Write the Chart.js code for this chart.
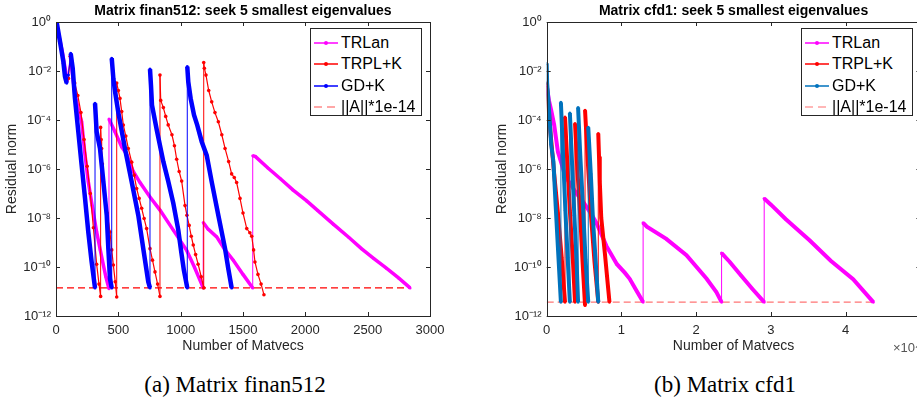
<!DOCTYPE html>
<html>
<head>
<meta charset="utf-8">
<script src="https://cdn.jsdelivr.net/npm/chart.js@4.4.1/dist/chart.umd.min.js"></script>
<style>
html, body { margin: 0; padding: 0; background: #fff; width: 917px; height: 400px; overflow: hidden; position: relative;
  font-family: "Liberation Sans", Arial, sans-serif; }
canvas { position: absolute; top: 0; }
#chartA { left: 0; }
#chartB { left: 460px; }
.cap { position: absolute; top: 373px; font: 23px/23px "Liberation Serif", "Times New Roman", serif; color: #000;
  white-space: nowrap; transform: translateX(-50%); }
.leg { position: absolute; top: 28px; width: 112px; height: 88px; border: 1px solid #262626; background: #fff; box-sizing: border-box; }
.row { position: absolute; left: 3px; height: 20px; display: flex; align-items: center; font-size: 16px; color: #000; white-space: nowrap; }
.row svg { margin-right: 3px; }
.expo { position: absolute; left: 893px; top: 340px; font-size: 13px; color: #555; white-space: nowrap; }
</style>
</head>
<body>
<canvas id="chartA" width="460" height="360"></canvas>
<canvas id="chartB" width="500" height="360"></canvas>
<div class="leg" id="legA" style="left:310px"></div>
<div class="leg" id="legB" style="left:801px"></div>
<div class="expo">×10⁴</div>
<div class="cap" style="left:235px">(a) Matrix finan512</div>
<div class="cap" style="left:725px">(b) Matrix cfd1</div>
<script>
// tick values
const logTicks = [1e-12, 1e-10, 1e-8, 1e-6, 1e-4, 1e-2, 1];
const finanTicks = [0, 500, 1000, 1500, 2000, 2500, 3000];
const cfdTicks = [0, 10000, 20000, 30000, 40000, 50000];
const legendNames = ['TRLan', 'TRPL+K', 'GD+K', '||A||*1e-14'];

// finan512: [matvecs, residual norm]
const finanTRLan = [
  [0, 1.0], [50, 6.3e-2], [90, 4.0e-3], [115, 4.0e-2], [150, 1.3e-3], [180, 2.5e-4], [206, 8.5e-5], [230, 5.0e-6],
  [259, 3.0e-7], [290, 3.2e-8], [326, 2.7e-9], [355, 5.0e-10], [380, 1.2e-10], [400, 4.0e-11], [425, 1.3e-11],
  [425, 1.1e-4], [473, 3.3e-5], [527, 7.9e-6], [567, 4.0e-6], [620, 7.9e-7], [674, 2.8e-7], [754, 7.2e-8],
  [834, 2.1e-8], [941, 3.2e-9], [1048, 4.8e-10], [1110, 1.0e-10], [1181, 1.4e-11],
  [1181, 6.5e-9], [1220, 3.5e-9], [1289, 1.7e-9], [1356, 5.0e-10], [1422, 1.9e-10], [1500, 5.0e-11], [1578, 1.4e-11],
  [1578, 3.5e-6], [1600, 3.2e-6], [1700, 1.1e-6], [1800, 4.0e-7], [1900, 1.4e-7], [2011, 5.0e-8], [2100, 2.0e-8],
  [2224, 5.6e-9], [2350, 1.6e-9], [2450, 5.6e-10], [2550, 2.2e-10], [2650, 8.9e-11], [2750, 3.5e-11], [2840, 1.4e-11]
];
const finanTRPL = [
  [0, 1.0], [30, 1.6e-1], [60, 2.0e-2], [85, 4.0e-3], [100, 5.0e-3], [115, 4.0e-2], [130, 1.6e-2], [150, 3.2e-3],
  [175, 1.0e-3], [200, 2.0e-4], [225, 1.6e-5], [250, 1.3e-6], [275, 1.0e-7], [300, 4.0e-9], [326, 1.3e-10],
  [345, 2.0e-11], [358, 6.3e-12],
  [358, 5.0e-5], [362, 1.6e-5], [366, 6.9e-6], [372, 1.6e-6], [380, 3.0e-7], [395, 6.3e-8], [410, 1.6e-8],
  [433, 2.7e-9], [447, 5.0e-10], [460, 1.2e-10], [475, 2.5e-11], [487, 6.0e-12],
  [487, 3.2e-3], [500, 1.6e-3], [513, 7.6e-4], [527, 2.2e-4], [540, 6.2e-5], [560, 2.2e-5], [580, 6.9e-6],
  [607, 1.9e-6], [627, 5.6e-7], [647, 1.6e-7], [667, 6.3e-8], [687, 2.5e-8], [707, 9.5e-9], [727, 3.7e-9],
  [754, 5.6e-10], [774, 1.9e-10], [794, 6.3e-11], [815, 2.0e-11], [834, 6.3e-12],
  [834, 6.8e-3], [840, 6.3e-4], [861, 3.2e-4], [880, 1.4e-4], [900, 6.3e-5], [930, 2.5e-5], [950, 8.9e-6],
  [968, 2.5e-6], [988, 7.9e-7], [1008, 3.2e-7], [1035, 3.2e-8], [1050, 1.3e-8], [1068, 5.0e-9], [1085, 1.8e-9],
  [1101, 7.9e-10], [1120, 3.2e-10], [1140, 1.3e-10], [1165, 4.0e-11], [1185, 1.4e-11],
  [1185, 2.2e-2], [1190, 1.3e-2], [1203, 6.8e-3], [1225, 1.6e-3], [1249, 5.5e-4], [1275, 2.0e-4], [1302, 8.5e-5],
  [1330, 2.5e-5], [1356, 6.9e-6], [1385, 2.0e-6], [1409, 6.3e-7], [1430, 4.5e-7], [1449, 2.8e-7], [1476, 6.3e-8],
  [1500, 1.6e-8], [1530, 3.7e-9], [1555, 2.5e-9], [1570, 1.8e-9], [1585, 5.0e-10], [1596, 1.6e-10], [1620, 5.0e-11],
  [1645, 2.0e-11], [1668, 7.4e-12]
];
const finanGDK = [
  [5, 1.0], [32, 1.6e-1], [59, 2.4e-2], [72, 5.9e-3], [86, 3.2e-3], [99, 6.8e-3], [118, 5.2e-2], [134, 1.3e-2],
  [152, 7.6e-4], [179, 3.3e-5], [206, 1.4e-6], [233, 6.3e-8], [259, 2.7e-9], [286, 1.6e-10], [313, 1.4e-11],
  [313, 4.8e-4], [326, 3.3e-5], [353, 6.9e-6], [380, 3.0e-7], [407, 1.3e-8], [420, 5.6e-10], [433, 3.3e-11], [447, 1.4e-11],
  [447, 3.3e-2], [460, 5.0e-3], [475, 1.3e-3], [500, 2.0e-4], [553, 6.9e-6], [607, 3.0e-7], [660, 1.3e-8],
  [700, 5.6e-10], [740, 2.5e-11], [754, 1.4e-11],
  [754, 1.2e-2], [762, 2.5e-3], [770, 4.0e-4], [808, 4.0e-5], [861, 2.0e-6], [900, 3.2e-7], [941, 4.0e-8],
  [981, 3.2e-9], [1005, 4.0e-10], [1025, 7.9e-11], [1053, 1.4e-11],
  [1053, 1.5e-2], [1061, 3.6e-3], [1080, 7.6e-4], [1107, 1.6e-4], [1133, 6.2e-5], [1169, 1.3e-5], [1209, 3.6e-6],
  [1249, 3.0e-7], [1302, 1.3e-8], [1356, 5.6e-10], [1382, 8.5e-11], [1409, 1.4e-11]
];
const finanLimit = [[0, 1.4e-11], [2840, 1.4e-11]];

// cfd1: [matvecs, residual norm]
const cfdTRLan = [
  [0, 2.5e-3], [300, 6.3e-4], [600, 2.5e-4], [1000, 6.3e-5], [1500, 5.0e-6], [2500, 5.0e-7], [4000, 1.0e-7],
  [5000, 4.0e-8], [6200, 1.1e-8], [6700, 5.9e-9], [8000, 7.1e-10], [9400, 1.3e-10], [10500, 5.6e-11],
  [11100, 3.3e-11], [12000, 1.1e-11], [12900, 3.7e-12],
  [12900, 6.3e-9], [13400, 4.4e-9], [16000, 1.4e-9], [18700, 3.0e-10], [21400, 3.3e-11], [22700, 9.5e-12], [23400, 3.7e-12],
  [23400, 3.7e-10], [24500, 1.6e-10], [26000, 4.5e-11], [27500, 1.3e-11], [29100, 3.7e-12],
  [29100, 6.2e-8], [30000, 3.5e-8], [32000, 8.9e-9], [35200, 1.2e-9], [38000, 1.8e-10], [41000, 3.2e-11], [43700, 3.7e-12]
];
const cfdTRPL = [
  [0, 3.2e-3], [500, 3.2e-5], [1000, 6.3e-7], [1500, 1.6e-8], [2000, 2.5e-10], [2450, 3.7e-12],
  [2450, 1.3e-4], [2800, 1.0e-6], [3100, 2.0e-8], [3500, 2.0e-10], [3790, 3.7e-12],
  [3790, 7.2e-5], [4100, 1.0e-6], [4500, 1.0e-8], [4800, 1.6e-10], [5130, 2.7e-12],
  [5130, 2.5e-4], [5500, 2.0e-6], [5900, 1.6e-8], [6400, 1.6e-10], [6900, 3.7e-12],
  [6900, 2.8e-5], [7000, 3.2e-6], [7100, 3.2e-7], [7300, 1.0e-8], [7800, 3.2e-10], [8200, 1.6e-11], [8400, 3.7e-12]
];
const cfdGDK = [
  [0, 2.0e-2], [60, 3.2e-3], [250, 5.0e-4], [600, 1.0e-5], [900, 2.0e-6], [1200, 3.2e-8], [1500, 6.3e-10], [1900, 3.7e-12],
  [1900, 5.2e-4], [2200, 3.2e-6], [2500, 2.0e-8], [2800, 2.5e-10], [3100, 3.7e-12],
  [3100, 1.9e-4], [3400, 1.6e-6], [3700, 1.3e-8], [4000, 1.6e-10], [4200, 3.7e-12],
  [4200, 3.2e-4], [4500, 3.2e-6], [4900, 1.6e-8], [5200, 2.0e-10], [5560, 3.7e-12],
  [5560, 5.0e-5], [5900, 6.3e-7], [6200, 7.9e-9], [6600, 1.0e-10], [6900, 3.7e-12]
];
const cfdLimit = [[0, 3.7e-12], [43700, 3.7e-12]];

const SUP = { '-': '⁻', '0': '⁰', '1': '¹', '2': '²', '3': '³', '4': '⁴', '5': '⁵', '6': '⁶', '7': '⁷', '8': '⁸', '9': '⁹' };
function powLabel(v) {
  const e = Math.round(Math.log10(v));
  return '10' + String(e).split('').map(c => SUP[c]).join('');
}

function line(label, pts, color, width, radius) {
  return {
    label, data: pts.map(p => ({ x: p[0], y: p[1] })),
    borderColor: color, backgroundColor: color,
    borderWidth: width, pointRadius: radius, pointBorderWidth: 0, pointHoverRadius: 0,
    tension: 0,
    // restarts (jumps up) are drawn thin
    segment: { borderWidth: c => (c.p1.y < c.p0.y - 0.5 ? 1 : width) }
  };
}
function limitLine(pts, color) {
  return { label: legendNames[3], data: pts.map(p => ({ x: p[0], y: p[1] })),
    borderColor: color, borderWidth: 1.2, borderDash: [7, 4], pointRadius: 0, tension: 0 };
}

// inward tick marks and box like MATLAB axes
const matBox = {
  id: 'matBox',
  afterDatasetsDraw(chart) {
    const { ctx, chartArea: a, scales: { x, y } } = chart;
    ctx.save();
    ctx.strokeStyle = '#262626';
    ctx.lineWidth = 1;
    ctx.strokeRect(Math.round(a.left) + 0.5, Math.round(a.top) + 0.5, Math.round(a.right - a.left), Math.round(a.bottom - a.top));
    ctx.beginPath();
    x.ticks.forEach(t => {
      const px = Math.round(x.getPixelForValue(t.value)) + 0.5;
      ctx.moveTo(px, a.bottom); ctx.lineTo(px, a.bottom - 4);
      ctx.moveTo(px, a.top); ctx.lineTo(px, a.top + 4);
    });
    y.ticks.forEach(t => {
      const py = Math.round(y.getPixelForValue(t.value)) + 0.5;
      ctx.moveTo(a.left, py); ctx.lineTo(a.left + 4, py);
      ctx.moveTo(a.right, py); ctx.lineTo(a.right - 4, py);
    });
    ctx.stroke();
    ctx.restore();
  }
};

const txt = '#262626';
const font = { family: '"Liberation Sans", Arial, sans-serif' };

function makeChart(id, title, datasets, xTicks, xMax, xFmt, padLeft, padRight, yWidth) {
  return new Chart(document.getElementById(id), {
    type: 'line',
    data: { datasets },
    options: {
      responsive: false, animation: false,
      layout: { padding: { left: padLeft, right: padRight, top: 0, bottom: 0 } },
      plugins: {
        legend: { display: false }, tooltip: { enabled: false },
        title: { display: true, text: title, fullSize: false, color: '#000',
          font: { ...font, size: 14, weight: 'bold', lineHeight: 1.2 }, padding: { top: 3, bottom: 2.2 } }
      },
      scales: {
        x: {
          type: 'linear', min: 0, max: xMax,
          afterBuildTicks: s => { s.ticks = xTicks.map(v => ({ value: v })); },
          afterFit: s => { s.height = 44; },
          grid: { display: false, drawTicks: false }, border: { display: false },
          ticks: { color: txt, font: { ...font, size: 13 }, padding: 7, maxRotation: 0, callback: xFmt },
          title: { display: true, text: 'Number of Matvecs', color: txt, font: { ...font, size: 14, lineHeight: 1.2 },
            padding: { top: 0, bottom: 5.6 } }
        },
        y: {
          type: 'logarithmic', min: 1e-12, max: 1,
          afterBuildTicks: s => { s.ticks = logTicks.map(v => ({ value: v })); },
          afterFit: s => { s.width = yWidth; },
          grid: { display: false, drawTicks: false }, border: { display: false },
          ticks: { color: txt, font: { ...font, size: 13 }, padding: 5, callback: v => powLabel(v) },
          title: { display: true, text: 'Residual norm', color: txt, font: { ...font, size: 14, lineHeight: 1.2 },
            padding: { top: 3.6, bottom: 0 } }
        }
      }
    },
    plugins: [matBox]
  });
}

makeChart('chartA', 'Matrix finan512: seek 5 smallest eigenvalues', [
  line(legendNames[2], finanGDK, '#0000ff', 4.5, 1.6),
  line(legendNames[1], finanTRPL, '#ff0000', 1.2, 1.8),
  line(legendNames[0], finanTRLan, '#ff00ff', 3.5, 1.5),
  limitLine(finanLimit, '#ff0000')
], finanTicks, 3000, v => String(v), 0, 30, 56);

makeChart('chartB', 'Matrix cfd1: seek 5 smallest eigenvalues', [
  line(legendNames[2], cfdGDK, '#0072bd', 4, 1.6),
  line(legendNames[1], cfdTRPL, '#ff0000', 4, 1.6),
  line(legendNames[0], cfdTRLan, '#ff00ff', 4, 1.6),
  limitLine(cfdLimit, 'rgba(255,0,0,0.55)')
], cfdTicks, 50000, v => String(v / 10000), 30, 39.6, 56.7);

// legends
function buildLegend(id, colors) {
  const box = document.getElementById(id);
  const centers = [13.5, 35, 56.5, 77.5];
  legendNames.forEach((name, i) => {
    const row = document.createElement('div');
    row.className = 'row';
    row.style.top = (centers[i] - 10) + 'px';
    const dashed = i === 3;
    row.innerHTML = '<svg width="24" height="8">' +
      (dashed
        ? '<line x1="0" y1="4" x2="24" y2="4" stroke="' + colors[i] + '" stroke-width="1.2" stroke-dasharray="8,5"/>'
        : '<line x1="0" y1="4" x2="24" y2="4" stroke="' + colors[i] + '" stroke-width="1.5"/><circle cx="12" cy="4" r="2" fill="' + colors[i] + '"/>') +
      '</svg>';
    const span = document.createElement('span');
    span.textContent = name;
    row.appendChild(span);
    box.appendChild(row);
  });
}
buildLegend('legA', ['#ff00ff', '#ff0000', '#0000ff', '#ff5050']);
buildLegend('legB', ['#ff00ff', '#ff0000', '#0072bd', '#ff7070']);
</script>
</body>
</html>
